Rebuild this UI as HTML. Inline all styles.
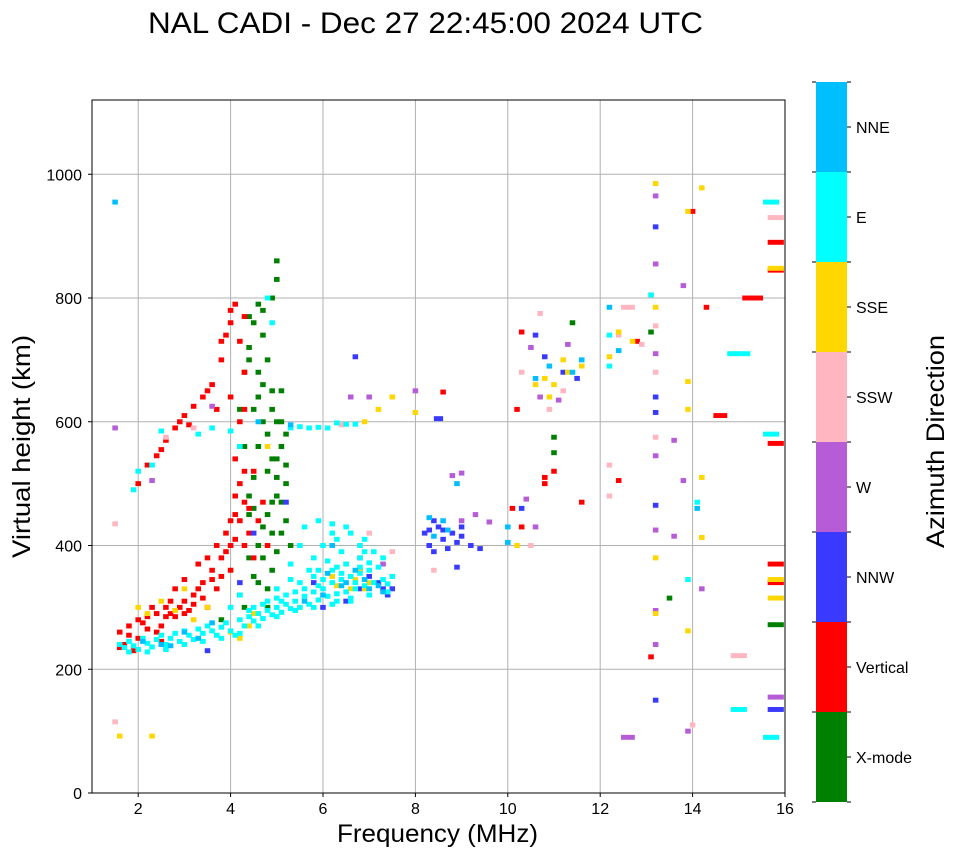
<!DOCTYPE html>
<html><head><meta charset="utf-8"><style>
body{margin:0;background:#fff;}
svg text{font-family:"Liberation Sans","DejaVu Sans",sans-serif;}
</style></head><body>
<svg id="chart" width="958" height="857" xmlns="http://www.w3.org/2000/svg">
<rect width="958" height="857" fill="#fff"/>
<text x="148" y="33" font-size="30" textLength="555" lengthAdjust="spacingAndGlyphs">NAL CADI - Dec 27 22:45:00 2024 UTC</text>
<g id="grid"></g>
<g id="marks"></g>
<rect x="92" y="100" width="693" height="693" fill="none" stroke="#000" stroke-width="1"/>
<g id="axes"></g>
<text x="337" y="842" font-size="25" textLength="201" lengthAdjust="spacingAndGlyphs">Frequency (MHz)</text>
<text transform="translate(30,558) rotate(-90)" font-size="25" textLength="223" lengthAdjust="spacingAndGlyphs">Virtual height (km)</text>
<g id="colorbar"></g>
<text transform="translate(944,548) rotate(-90)" font-size="25" textLength="213" lengthAdjust="spacingAndGlyphs">Azimuth Direction</text>
</svg>
<script>
const xTicks=[2,4,6,8,10,12,14,16];
const yTicks=[0,200,400,600,800,1000];
const dirLabels=["X-mode","Vertical","NNW","W","SSW","SSE","E","NNE"];
const dirColors=["#008000","#ff0000","#3a3aff","#b65cd6","#ffb6c1","#ffd700","#00ffff","#00bfff"];
const xMin=1,xMax=16,yMin=0,yMax=1120;
const X0=92,X1=785,Y0=793,Y1=100;
const sx=f=>X0+(f-xMin)/(xMax-xMin)*(X1-X0);
const sy=h=>Y0-(h-yMin)/(yMax-yMin)*(Y0-Y1);

// data per direction: [freq, height, width(optional, MHz)]
const xmodePts=[[4.3,680],[4.4,720],[4.5,760],[4.6,790],[4.7,740],[4.8,700],[4.9,650],[5.0,600],[5.1,560],[4.5,620],[4.6,560],[4.8,520],[5.0,480],[5.2,440],[4.4,450],[4.6,400],[4.7,380],[4.9,360],[5.1,420],[5.3,400],[4.2,320],[4.5,350],[5.0,860],[5.0,830],[3.8,280],[4.3,300],[4.8,300],[5.2,500],[4.4,480],[4.9,420],[5.0,540],[4.6,680],[4.9,620],[5.1,650],[4.7,600],[5.2,580],[4.8,450],[4.5,510],[4.4,700],[4.6,640],[4.7,660],[4.8,580],[4.9,540],[5.1,600],[5.0,510],[4.7,430],[4.5,460],[4.9,470],[5.1,470],[5.2,530],[4.6,340],[4.8,330],[5.0,390],[4.4,380],[4.3,560],[4.2,620],[4.4,770],[4.7,780],[4.9,800],[11.0,550],[11.0,575],[11.4,760],[13.1,745],[15.8,272,0.35],[13.5,315]];
const verticalPts=[[2.0,500],[2.2,530],[2.4,545],[2.6,570],[2.8,590],[3.0,610],[3.2,625],[3.4,640],[3.6,660],[3.8,700],[4.0,760],[4.1,790],[3.9,740],[4.2,730],[2.5,555],[2.9,600],[3.1,595],[3.5,650],[3.7,620],[4.0,780],[4.3,770],[3.8,730],[1.6,260],[1.8,270],[2.0,280],[2.2,265],[2.4,290],[2.6,300],[2.8,285],[3.0,310],[3.2,320],[3.4,340],[3.6,360],[3.8,380],[4.0,400],[4.1,450],[4.2,500],[4.3,470],[4.4,420],[4.5,380],[3.5,300],[3.0,290],[2.5,270],[2.0,250],[1.7,240],[2.8,330],[3.3,370],[3.7,330],[4.0,440],[4.2,560],[4.3,620],[4.5,520],[4.7,470],[1.9,230],[2.3,300],[2.7,310],[3.1,295],[3.9,420],[4.1,480],[4.3,400],[1.8,255],[2.1,275],[2.4,260],[2.6,285],[2.9,300],[3.2,305],[3.4,315],[3.6,345],[3.8,350],[3.9,390],[4.0,360],[4.1,410],[4.2,440],[4.3,520],[4.4,460],[4.1,540],[4.2,600],[4.0,640],[4.3,680],[3.7,400],[3.5,380],[3.3,330],[3.0,345],[2.7,290],[2.2,285],[1.6,235],[2.5,245],[4.6,440],[4.8,400],[10.2,620],[10.3,745],[10.3,430],[10.8,510],[10.8,500],[11,520],[11.6,470],[12.4,505],[12.8,730],[13.1,220],[14,940],[14.3,785],[14.6,610,0.3],[15.3,800,0.45],[15.8,890,0.35],[15.8,845,0.35],[15.8,565,0.35],[15.8,370,0.35],[15.8,340,0.35],[8.6,648],[10.1,460]];
const nnwPts=[[3.5,230],[4.2,340],[4.5,420],[5.2,470],[5.8,340],[6.5,310],[6.8,330],[7.0,350],[7.4,320],[6.8,360],[6.7,705],[8.2,420],[8.3,400],[8.5,430],[8.6,410],[8.8,420],[9.0,415],[8.9,365],[8.4,440],[8.5,605,0.2],[8.7,395],[8.3,425],[8.6,425],[8.9,405],[9.0,430],[8.4,390],[7.2,340],[7.5,330],[10.3,460],[10.6,740],[10.8,705],[11.2,680],[11.5,670],[13.2,150],[13.2,465],[13.2,615],[13.2,915],[13.2,640],[15.8,135,0.35],[9.2,400],[9.4,395],[7.3,330],[6.0,300]];
const wPts=[[1.5,590],[2.3,505],[3.6,625],[6.8,380],[7.3,370],[8.8,513],[9.0,517],[9.3,450],[9.6,438],[10.5,720],[10.7,640],[11.1,635],[11.3,725],[12.6,90,0.3],[13.2,240],[13.2,295],[13.2,425],[13.2,545],[13.2,965],[13.2,855],[13.2,710],[13.6,570],[13.6,415],[13.8,820],[13.8,505],[13.9,100],[14.2,330],[15.8,155,0.35],[7.0,640],[8.0,650],[10.4,475],[10.6,430],[9.0,440],[6.6,640]];
const sswPts=[[1.5,435],[1.5,115],[6.8,400],[7.0,420],[7.5,390],[8.4,360],[10.3,680],[10.7,775],[10.9,620],[11.2,650],[12.2,530],[12.2,480],[12.6,785,0.3],[13.2,755],[13.2,680],[13.2,575],[14.0,110],[15.8,930,0.35],[10.5,400],[12.4,740],[12.9,725],[15.0,222,0.35],[2.6,575],[3.2,590],[6.4,595]];
const ssePts=[[1.6,92],[2.3,92],[2.0,300],[2.5,310],[3.0,330],[3.5,300],[4.0,260],[4.5,290],[5.5,300],[6.2,350],[6.5,370],[6.8,360],[6.9,600],[7.2,620],[7.5,640],[8.0,615],[10.2,400],[10.6,660],[10.8,670],[11.0,660],[11.2,700],[11.6,690],[12.2,705],[12.4,745],[12.7,730],[13.2,985],[13.2,785],[13.2,380],[13.2,290],[13.9,940],[14.2,978],[13.9,665],[13.9,620],[14.2,510],[14.2,413],[13.9,262],[15.8,315,0.35],[15.8,345,0.35],[15.8,848,0.35],[3.2,280],[4.8,560],[6.6,330],[7.0,340],[4.2,250],[4.4,270],[6.3,335],[6.7,345],[6.9,330],[2.2,290],[2.8,295],[10.9,640],[11.3,680]];
const ePts=[[1.6,240],[1.7,235],[1.8,245],[1.9,238],[2.0,232],[2.1,250],[2.2,242],[2.3,236],[2.4,248],[2.5,255],[2.6,240],[2.7,250],[2.8,258],[2.9,245],[3.0,262],[3.1,255],[3.2,248],[3.3,265],[3.4,258],[3.5,270],[3.6,262],[3.7,255],[3.8,268],[3.9,275],[4.0,262],[4.1,255],[4.2,280],[4.3,270],[4.4,285],[4.5,278],[4.6,290],[4.7,282],[4.8,295],[4.9,288],[5.0,300],[5.1,292],[5.2,305],[5.3,298],[5.4,310],[5.5,300],[5.6,318],[5.7,305],[5.8,325],[5.9,312],[6.0,330],[6.1,318],[6.2,340],[6.3,322],[6.4,345],[6.5,325],[6.6,350],[6.7,330],[6.8,355],[6.9,335],[7.0,360],[7.1,340],[7.2,365],[7.3,345],[7.4,338],[5.5,340],[5.8,350],[6.2,360],[6.5,370],[6.8,380],[7.0,372],[4.5,300],[4.8,310],[5.2,320],[5.6,330],[6.0,345],[6.4,355],[6.8,365],[5,330],[5.3,370],[5.5,400],[5.8,380],[6.2,420],[6.5,430],[6.8,400],[4,300],[4.2,320],[5.9,335],[6.3,310],[6.6,315],[5.1,310],[5.4,325],[1.8,228],[2.2,228],[2.6,232],[3.0,240],[3.4,245],[3.8,250],[4.2,258],[4.6,270],[5.0,285],[5.4,295],[5.8,300],[6.2,305],[6.6,310],[7.0,320],[7.4,325],[5.7,360],[6.1,375],[6.4,390],[6.0,400],[6.3,410],[6.6,420],[6.9,410],[5.6,430],[5.9,440],[6.2,435],[7.1,390],[7.3,380],[7.5,350],[6.9,390],[6.7,340],[6.3,365],[5.9,360],[5.3,345],[5.0,315],[4.7,305],[4.4,295],[5.3,590],[5.5,592],[5.7,590],[5.9,591],[6.1,590],[6.3,598],[6.5,596],[6.7,596],[2.0,520],[1.9,490],[2.3,530],[3.3,580],[3.6,590],[4.0,585],[4.2,560],[12.2,740],[12.2,690],[13.1,805],[14.1,470],[13.9,345],[15.7,580,0.35],[15.7,90,0.35],[15.7,955,0.35],[2.5,585],[4.8,800],[4.9,760],[15.0,710,0.5],[15.0,135,0.35]];
const nnePts=[[1.5,955],[2.5,240],[3.0,260],[3.3,250],[4.6,600],[5.3,595],[6.2,400],[6.5,340],[6.9,345],[7.2,335],[8.9,500],[8.3,445],[8.6,440],[10.0,430],[10.0,405],[10.6,670],[10.9,690],[11.4,680],[11.6,700],[12.4,715],[12.2,785],[14.1,460],[7.3,325],[6.0,320],[6.4,335],[6.1,355],[6.7,360],[7.0,330],[5.6,310],[2.1,245],[2.7,238],[3.6,275],[8.7,425],[8.4,415]];
const series=[xmodePts,verticalPts,nnwPts,wPts,sswPts,ssePts,ePts,nnePts];

const NS="http://www.w3.org/2000/svg";
function mk(tag,attrs,parent){const e=document.createElementNS(NS,tag);for(const k in attrs)e.setAttribute(k,attrs[k]);parent.appendChild(e);return e;}
const grid=document.getElementById('grid'),axes=document.getElementById('axes'),marks=document.getElementById('marks'),cb=document.getElementById('colorbar');
xTicks.forEach(t=>{const x=sx(t);
 const g=mk('line',{x1:x,x2:x,y1:Y1,y2:Y0,stroke:'#b0b0b0','stroke-width':1},grid);
 
 
 mk('line',{x1:x,x2:x,y1:Y0,y2:Y0+4,stroke:'#000'},axes);
 const tx=mk('text',{x:x,y:Y0+21,'font-size':16,'text-anchor':'middle'},axes);tx.textContent=t;
 
 });
yTicks.forEach(t=>{const y=sy(t);
 const g=mk('line',{x1:X0,x2:X1,y1:y,y2:y,stroke:'#b0b0b0','stroke-width':1},grid);
 
 
 mk('line',{x1:X0-4,x2:X0,y1:y,y2:y,stroke:'#000'},axes);
 const tx=mk('text',{x:X0-10,y:y+6,'font-size':16,'text-anchor':'end'},axes);tx.textContent=t;
 
 });
series.forEach((pts,i)=>{pts.forEach(p=>{const w=p[2]||0.12;
 const r=mk('rect',{x:sx(p[0]-w/2),y:sy(p[1]+4),width:sx(p[0]+w/2)-sx(p[0]-w/2),height:sy(p[1]-4)-sy(p[1]+4),fill:dirColors[i]},marks);
 
 });});
const CB0=802,CBH=90;
dirLabels.forEach((l,i)=>{const yTop=CB0-(i+1)*CBH;
 const r=mk('rect',{x:816,y:yTop,width:31,height:CBH,fill:dirColors[i]},cb);
 
 
 mk('line',{x1:847,x2:851,y1:yTop+CBH/2,y2:yTop+CBH/2,stroke:'#000'},cb);
 mk('line',{x1:812,x2:816,y1:yTop,y2:yTop,stroke:'#000'},cb);
 mk('line',{x1:847,x2:851,y1:yTop,y2:yTop,stroke:'#000'},cb);
 const tx=mk('text',{x:856,y:yTop+CBH/2+6,'font-size':16},cb);tx.textContent=l;
 
 });
mk('line',{x1:812,x2:816,y1:CB0,y2:CB0,stroke:'#000'},cb);
mk('line',{x1:847,x2:851,y1:CB0,y2:CB0,stroke:'#000'},cb);
</script>
</body></html>
